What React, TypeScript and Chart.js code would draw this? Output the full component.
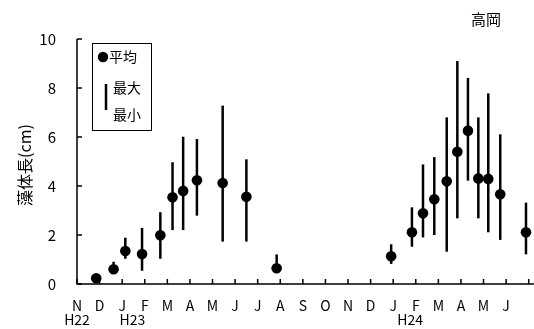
import React, { useEffect, useRef } from 'react';
import { Chart, registerables } from 'chart.js';
Chart.register(...registerables);

const FONT = '"Noto Sans CJK JP", "Noto Sans", sans-serif';

const monthLabels = ['N', 'D', 'J', 'F', 'M', 'A', 'M', 'J', 'J', 'A', 'S', 'O', 'N', 'D', 'J', 'F', 'M', 'A', 'M', 'J', ''];
const yearLabels = ['H22', 'H23', 'H24'];
const yearLabelAt = [0, 2.45, 14.75];
const yTicks = [0, 2, 4, 6, 8, 10];

// sampling time in months since start of November H22
const sampleX = [0.85, 1.62, 2.14, 2.88, 3.69, 4.23, 4.70, 5.31, 6.45, 7.50, 8.84, 13.91, 14.83, 15.32, 15.82, 16.37, 16.84, 17.31, 17.77, 18.21, 18.74, 19.88];
const meanLen = [0.23, 0.6, 1.35, 1.22, 1.99, 3.54, 3.8, 4.23, 4.12, 3.56, 0.64, 1.13, 2.11, 2.89, 3.46, 4.19, 5.4, 6.26, 4.31, 4.29, 3.66, 2.11];
const maxLen = [0.35, 0.91, 1.89, 2.29, 2.93, 4.97, 6.01, 5.92, 7.28, 5.09, 1.21, 1.62, 3.13, 4.88, 5.18, 6.8, 9.1, 8.41, 6.8, 7.78, 6.11, 3.32];
const minLen = [0.12, 0.45, 1.03, 0.54, 1.03, 2.2, 2.2, 2.79, 1.73, 1.73, 0.5, 0.82, 1.52, 1.9, 2.0, 1.32, 2.68, 4.22, 2.68, 2.11, 1.8, 1.21];

const chartTitle = '高岡';
const yTitle = '藻体長(cm)';
const legendMean = '平均';
const legendMax = '最大';
const legendMin = '最小';

const drawPlugin = {
  id: 'customDraw',
  beforeDatasetsDraw(chart: any) {
    const { ctx, scales } = chart;
    const x = scales.x;
    const y = scales.y;
    ctx.save();
    ctx.strokeStyle = '#000';
    ctx.lineWidth = 2.5;
    sampleX.forEach((sx, i) => {
      const px = x.getPixelForValue(sx);
      ctx.beginPath();
      ctx.moveTo(px, y.getPixelForValue(maxLen[i]));
      ctx.lineTo(px, y.getPixelForValue(minLen[i]));
      ctx.stroke();
    });
    ctx.restore();
  },
  afterDraw(chart: any) {
    const { ctx, chartArea, scales } = chart;
    const { left, top, bottom } = chartArea;
    const x = scales.x;
    const y = scales.y;
    ctx.save();
    ctx.strokeStyle = '#000';
    ctx.lineWidth = 1.5;
    ctx.beginPath();
    ctx.moveTo(left, top);
    ctx.lineTo(left, bottom);
    ctx.lineTo(chart.width, bottom);
    ctx.stroke();
    yTicks.forEach((v) => {
      const py = y.getPixelForValue(v);
      ctx.beginPath();
      ctx.moveTo(left, py);
      ctx.lineTo(left + 5, py);
      ctx.stroke();
    });
    monthLabels.forEach((_, i) => {
      const px = x.getPixelForValue(i);
      ctx.beginPath();
      ctx.moveTo(px, bottom);
      ctx.lineTo(px, bottom - 5);
      ctx.stroke();
    });

    ctx.fillStyle = '#000';
    ctx.textAlign = 'center';
    ctx.textBaseline = 'middle';
    ctx.font = `14px ${FONT}`;
    yearLabels.forEach((t, i) => {
      ctx.fillText(t, x.getPixelForValue(yearLabelAt[i]), bottom + 36);
    });

    // title
    ctx.font = `15px ${FONT}`;
    ctx.fillText(chartTitle, 486, 19);

    // y title
    ctx.save();
    ctx.translate(25, 165);
    ctx.rotate(-Math.PI / 2);
    ctx.font = `16px ${FONT}`;
    ctx.fillText(yTitle, 0, 0);
    ctx.restore();

    // legend box
    const bx = left + 15, by = top + 4, bw = 59, bh = 87;
    ctx.lineWidth = 1;
    ctx.strokeRect(bx + 0.5, by + 0.5, bw, bh);
    ctx.beginPath();
    ctx.arc(bx + 11, by + 14, 5.2, 0, Math.PI * 2);
    ctx.fill();
    ctx.lineWidth = 2.5;
    ctx.beginPath();
    ctx.moveTo(bx + 14, by + 41);
    ctx.lineTo(bx + 14, by + 67);
    ctx.stroke();
    ctx.font = `14px ${FONT}`;
    ctx.textAlign = 'left';
    ctx.fillText(legendMean, bx + 17, by + 14);
    ctx.fillText(legendMax, bx + 21, by + 45);
    ctx.fillText(legendMin, bx + 21, by + 72);
    ctx.restore();
  },
};

export default function App() {
  const ref = useRef<HTMLCanvasElement>(null);
  useEffect(() => {
    if (!ref.current) return;
    const chart = new Chart(ref.current, {
      type: 'scatter',
      data: {
        datasets: [
          {
            data: sampleX.map((sx, i) => ({ x: sx, y: meanLen[i] })),
            pointRadius: 5.3,
            pointBorderWidth: 0,
            backgroundColor: '#000',
            borderColor: '#000',
            showLine: false,
            clip: false as any,
          },
        ],
      },
      options: {
        animation: false,
        responsive: false,
        maintainAspectRatio: false,
        layout: { padding: { top: 39, right: -1, left: 0, bottom: 0 } },
        plugins: { legend: { display: false }, tooltip: { enabled: false }, title: { display: false } },
        scales: {
          x: {
            type: 'linear',
            min: 0,
            max: 20,
            grid: { display: false },
            border: { display: false },
            afterBuildTicks: (s: any) => {
              s.ticks = monthLabels.map((_, i) => ({ value: i }));
            },
            afterFit: (s: any) => {
              s.height = 45;
              s.paddingLeft = 0;
              s.paddingRight = 0;
            },
            ticks: {
              autoSkip: false,
              maxRotation: 0,
              padding: 5,
              color: '#000',
              font: { family: FONT, size: 14 },
              callback: (v: any) => monthLabels[v] ?? '',
            },
          },
          y: {
            min: 0,
            max: 10,
            grid: { display: false },
            border: { display: false },
            afterBuildTicks: (s: any) => {
              s.ticks = yTicks.map((v) => ({ value: v }));
            },
            afterFit: (s: any) => {
              s.width = 77;
            },
            ticks: {
              padding: 13,
              color: '#000',
              font: { family: FONT, size: 15 },
            },
          },
        },
      } as any,
      plugins: [drawPlugin],
    });
    return () => chart.destroy();
  }, []);
  return (
    <div style={{ position: 'fixed', left: 0, top: 0, width: 534, height: 329, background: '#fff' }}>
      <canvas ref={ref} width={534} height={329} style={{ width: 534, height: 329, display: 'block' }} />
    </div>
  );
}
